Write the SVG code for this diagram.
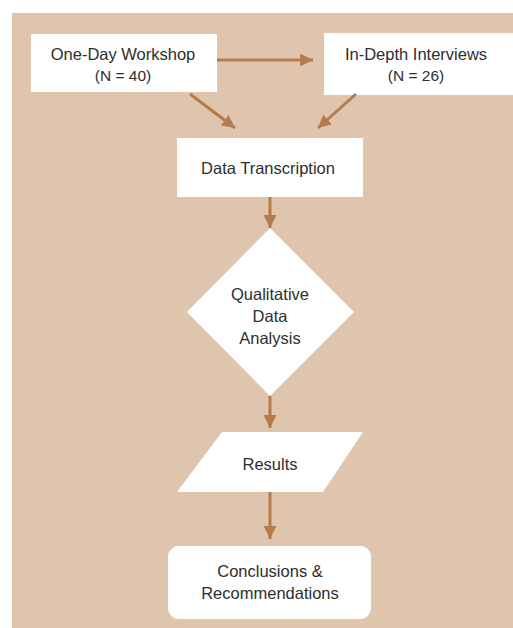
<svg xmlns="http://www.w3.org/2000/svg" width="513" height="628" viewBox="0 0 513 628">
<defs>
<marker id="ah" viewBox="0 0 10 10" refX="10" refY="5" markerWidth="4.3" markerHeight="4.3" markerUnits="strokeWidth" orient="auto">
<path d="M0,0 L10,5 L0,10 z" fill="#b47b4c"/>
</marker>
<style>
.node{fill:#ffffff;}
.lbl{font-family:"Liberation Sans",Arial,sans-serif;font-size:16.5px;fill:#2e2e2e;text-anchor:middle;}
.sm{font-size:15.5px;}
.conn{stroke:#b47b4c;stroke-width:3;fill:none;marker-end:url(#ah);}
</style>
</defs>
<rect x="0" y="0" width="513" height="628" fill="#ffffff"/>
<rect x="12" y="13" width="501" height="615" fill="#dfc5ad"/>
<g id="workshop">
<rect class="node" x="31" y="34" width="186" height="58"/>
<text class="lbl" x="123" y="60">One-Day Workshop</text>
<text class="lbl sm" x="123" y="81">(N = 40)</text>
</g>
<g id="interviews">
<rect class="node" x="324" y="33" width="189" height="62"/>
<text class="lbl" x="416" y="60">In-Depth Interviews</text>
<text class="lbl sm" x="416" y="81">(N = 26)</text>
</g>
<g id="transcription">
<rect class="node" x="177" y="138" width="186" height="59"/>
<text class="lbl" x="268" y="174">Data Transcription</text>
</g>
<g id="analysis">
<polygon class="node" points="270,228 354,312 270,396 187,312"/>
<text class="lbl" x="270" y="300">Qualitative</text>
<text class="lbl" x="270" y="322">Data</text>
<text class="lbl" x="270" y="344">Analysis</text>
</g>
<g id="results">
<polygon class="node" points="222,432 363,432 323,492 177,492"/>
<text class="lbl" x="270" y="470">Results</text>
</g>
<g id="conclusions">
<rect class="node" x="168" y="546" width="203" height="73" rx="11" ry="11"/>
<text class="lbl" x="270" y="577">Conclusions &amp;</text>
<text class="lbl" x="270" y="599">Recommendations</text>
</g>
<g id="connectors">
<line class="conn" x1="217" y1="60" x2="313" y2="60"/>
<line class="conn" x1="190" y1="94" x2="235" y2="128"/>
<line class="conn" x1="356" y1="94" x2="318" y2="128"/>
<line class="conn" x1="270" y1="197" x2="270" y2="228"/>
<line class="conn" x1="270" y1="396" x2="270" y2="428"/>
<line class="conn" x1="270" y1="492" x2="270" y2="539"/>
</g>
</svg>
